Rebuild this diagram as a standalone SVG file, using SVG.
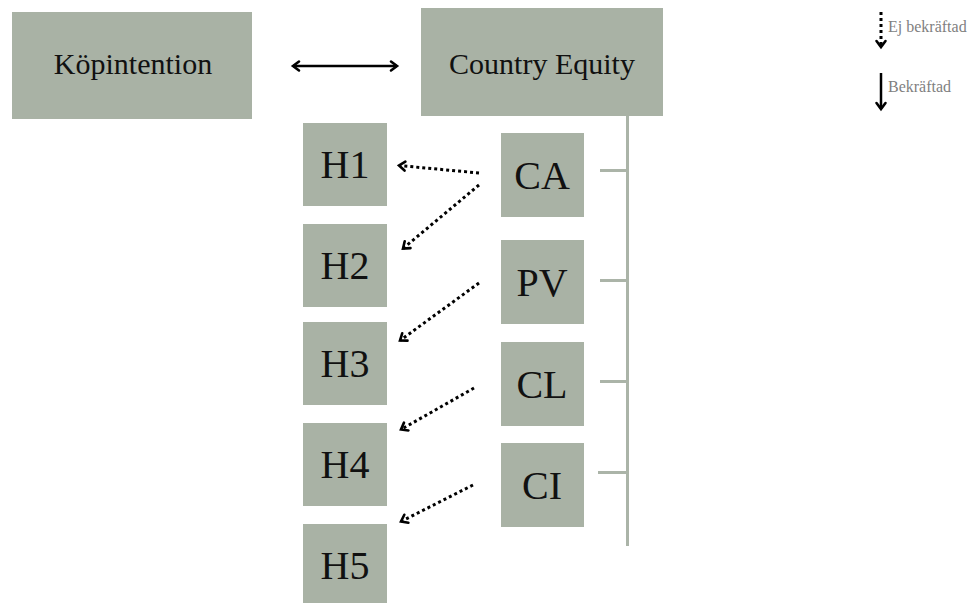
<svg xmlns="http://www.w3.org/2000/svg" width="977" height="603" viewBox="0 0 977 603">
  <style>
    .box { fill: #a9b2a5; }
    .lbl { font-family: "Liberation Serif", "Times New Roman", serif; fill: #111; text-anchor: middle; }
    .big { font-size: 30px; }
    .code { font-size: 40px; }
    .dot { stroke: #000; stroke-width: 3; stroke-dasharray: 3 3; fill: none; }
    .solid { stroke: #000; stroke-width: 2.5; fill: none; }
    .trunk { stroke: #abb4a8; stroke-width: 3; fill: none; }
    .legend { font-family: "Liberation Serif", "Times New Roman", serif; font-size: 16px; fill: #7f7f7f; }
  </style>
  <defs>
    <marker id="chev" markerUnits="userSpaceOnUse" markerWidth="14" markerHeight="14" viewBox="-10 -7 14 14" refX="0" refY="0" orient="auto-start-reverse">
      <path d="M-6,-4.5 L0,0 L-6,4.5" fill="none" stroke="#000" stroke-width="2.6" stroke-dasharray="none" stroke-linecap="round" stroke-linejoin="miter"/>
    </marker>
  </defs>

  <rect width="977" height="603" fill="#fff"/>

  <!-- top-level constructs -->
  <g id="kopintention">
    <rect class="box" x="12" y="12" width="240" height="107"/>
    <text class="lbl big" x="133" y="74">Köpintention</text>
  </g>
  <g id="country-equity">
    <rect class="box" x="421" y="8" width="242" height="108"/>
    <text class="lbl big" x="542" y="74">Country Equity</text>
  </g>

  <!-- hypotheses -->
  <g id="h1"><rect class="box" x="303" y="123" width="84" height="83"/><text class="lbl code" x="345" y="178">H1</text></g>
  <g id="h2"><rect class="box" x="303" y="224" width="84" height="83"/><text class="lbl code" x="345" y="279">H2</text></g>
  <g id="h3"><rect class="box" x="303" y="322" width="84" height="83"/><text class="lbl code" x="345" y="377">H3</text></g>
  <g id="h4"><rect class="box" x="303" y="423" width="84" height="83"/><text class="lbl code" x="345" y="478">H4</text></g>
  <g id="h5"><rect class="box" x="303" y="524" width="84" height="83"/><text class="lbl code" x="345" y="579">H5</text></g>

  <!-- country equity dimensions -->
  <g id="ca"><rect class="box" x="501" y="133" width="83" height="84"/><text class="lbl code" x="542" y="188.5">CA</text></g>
  <g id="pv"><rect class="box" x="501" y="240" width="83" height="84"/><text class="lbl code" x="542" y="295.5">PV</text></g>
  <g id="cl"><rect class="box" x="501" y="342" width="83" height="84"/><text class="lbl code" x="542" y="397.5">CL</text></g>
  <g id="ci"><rect class="box" x="501" y="443" width="83" height="84"/><text class="lbl code" x="542" y="498.5">CI</text></g>

  <g id="connectors">
    <!-- bracket joining the dimensions to Country Equity -->
    <line class="trunk" x1="627.5" y1="116" x2="627.5" y2="546"/>
    <line class="trunk" x1="600" y1="170.5" x2="627.5" y2="170.5"/>
    <line class="trunk" x1="600" y1="280.5" x2="627.5" y2="280.5"/>
    <line class="trunk" x1="600" y1="381.5" x2="627.5" y2="381.5"/>
    <line class="trunk" x1="598" y1="472.5" x2="627.5" y2="472.5"/>

    <!-- two-way relation -->
    <line class="solid" x1="293" y1="66" x2="397" y2="66" marker-start="url(#chev)" marker-end="url(#chev)"/>

    <!-- unconfirmed hypotheses -->
    <line class="dot" x1="479" y1="173" x2="399" y2="165.5" marker-end="url(#chev)"/>
    <line class="dot" x1="479" y1="185" x2="403" y2="248.5" marker-end="url(#chev)"/>
    <line class="dot" x1="479" y1="283" x2="400" y2="340.5" marker-end="url(#chev)"/>
    <line class="dot" x1="474" y1="388" x2="401" y2="429.5" marker-end="url(#chev)"/>
    <line class="dot" x1="473" y1="485" x2="401" y2="521.5" marker-end="url(#chev)"/>
  </g>

  <!-- legend -->
  <g id="legend">
    <line class="dot" x1="881" y1="12" x2="881" y2="47" marker-end="url(#chev)"/>
    <text class="legend" x="888" y="32">Ej bekräftad</text>
    <line class="solid" x1="881" y1="73" x2="881" y2="109" marker-end="url(#chev)"/>
    <text class="legend" x="888" y="92">Bekräftad</text>
  </g>
</svg>
